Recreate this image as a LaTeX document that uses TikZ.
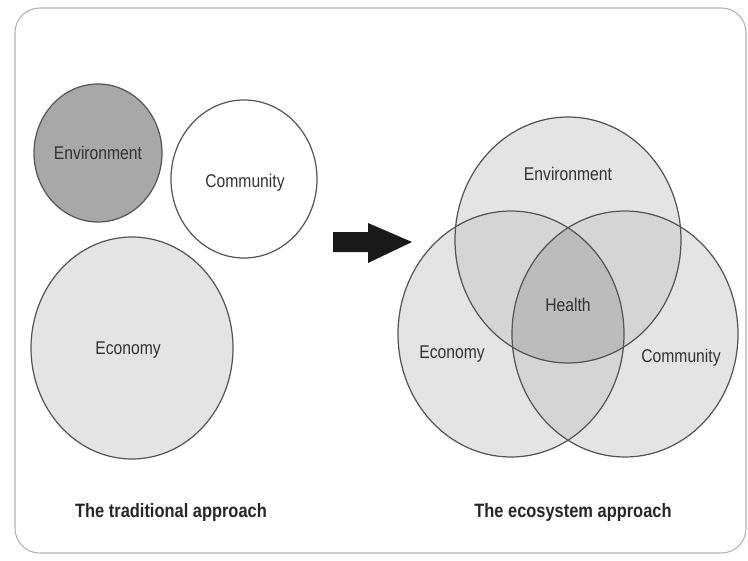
\documentclass[tikz,border=0pt]{standalone}
\usepackage{fontspec}
\setmainfont{Liberation Sans}[FakeStretch=0.85]
\usepackage{xcolor}

\definecolor{ringline}{HTML}{555555}
\definecolor{envdark}{HTML}{A8A8A8}
\definecolor{lightfill}{HTML}{E4E4E4}
\definecolor{pairfill}{HTML}{D5D5D5}
\definecolor{corefill}{HTML}{BCBCBC}
\definecolor{inktext}{HTML}{333333}

\tikzset{
  ring/.style={draw=ringline, line width=0.7pt},
  lbl/.style={text=inktext, font=\fontsize{10.5}{12}\selectfont},
  caption/.style={text=black!85, font=\fontsize{11}{13}\selectfont\bfseries}
}

\begin{document}
\begin{tikzpicture}[x=0.02cm,y=-0.02cm]
      \useasboundingbox (0,0) rectangle (748,561);
      \def\rx{113}
      \def\ry{123}

      % Cadre
      \draw[black!30, line width=0.6pt, rounded corners=14pt] (15,8) rectangle (746,553);

      % Approche traditionnelle
      \draw[ring, fill=envdark] (98,153) ellipse [x radius=64, y radius=69];
      \draw[ring, fill=white] (244,179) ellipse [x radius=73, y radius=79];
      \draw[ring, fill=lightfill] (132,348) ellipse [x radius=101, y radius=111];

      \node[lbl] (envL) at (98,153) {Environment};
      \node[lbl] (comL) at (245,183) {Community};
      \node[lbl] (ecoL) at (128,350) {Economy};

      % Fleche
      \fill[black!90] (333,232) -- (368,232) -- (368,223) -- (412,242)
        -- (368,263) -- (368,252) -- (333,252) -- cycle;

      % Approche ecosysteme
      \coordinate (E) at (568,240);
      \coordinate (Ec) at (511,334);
      \coordinate (Co) at (625,334);

      \fill[lightfill] (E) ellipse [x radius=\rx, y radius=\ry];
      \fill[lightfill] (Ec) ellipse [x radius=\rx, y radius=\ry];
      \fill[lightfill] (Co) ellipse [x radius=\rx, y radius=\ry];
      \begin{scope}
        \clip (E) ellipse [x radius=\rx, y radius=\ry];
        \fill[pairfill] (Ec) ellipse [x radius=\rx, y radius=\ry];
        \fill[pairfill] (Co) ellipse [x radius=\rx, y radius=\ry];
      \end{scope}
      \begin{scope}
        \clip (Ec) ellipse [x radius=\rx, y radius=\ry];
        \fill[pairfill] (Co) ellipse [x radius=\rx, y radius=\ry];
      \end{scope}
      \begin{scope}
        \clip (E) ellipse [x radius=\rx, y radius=\ry];
        \clip (Ec) ellipse [x radius=\rx, y radius=\ry];
        \fill[corefill] (Co) ellipse [x radius=\rx, y radius=\ry];
      \end{scope}
      \draw[ring] (E) ellipse [x radius=\rx, y radius=\ry];
      \draw[ring] (Ec) ellipse [x radius=\rx, y radius=\ry];
      \draw[ring] (Co) ellipse [x radius=\rx, y radius=\ry];

      \node[lbl] (envR) at (568,174) {Environment};
      \node[lbl] (health) at (568,305) {Health};
      \node[lbl] (ecoR) at (452,354) {Economy};
      \node[lbl] (comR) at (681,358) {Community};

      % Legendes
      \node[caption] (tradCap) at (171,512) {The traditional approach};
      \node[caption] (ecoCap) at (573,512) {The ecosystem approach};
    \end{tikzpicture}
\end{document}
